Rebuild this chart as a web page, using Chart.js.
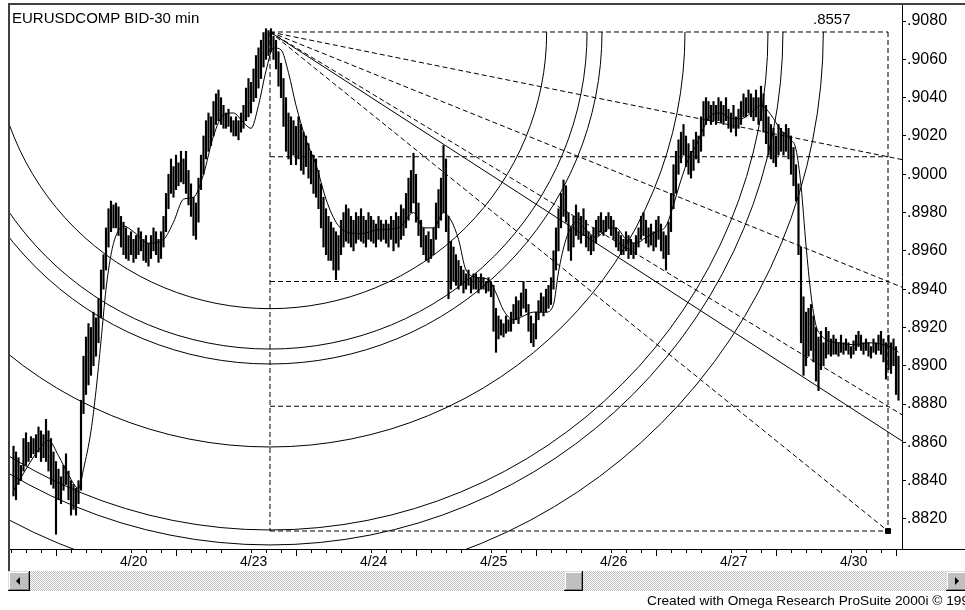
<!DOCTYPE html>
<html>
<head>
<meta charset="utf-8">
<script src="https://cdn.jsdelivr.net/npm/chart.js@4.4.0/dist/chart.umd.min.js"></script>
<style>
  body { margin: 0; background: #fff; width: 965px; height: 610px; overflow: hidden; position: relative;
         font-family: Arial, 'Liberation Sans', sans-serif; }
  canvas { position: absolute; left: 0; top: 0; }
  .txt { position: absolute; white-space: nowrap; color: #000; }
  .bevel { position: absolute; background: #c0c0c0;
           box-shadow: inset -1px -1px #000, inset 1px 1px #dfdfdf, inset -2px -2px #808080, inset 2px 2px #fff; }
  #track { position: absolute; left: 8px; top: 571px; width: 957px; height: 20px;
           background-color: #fff; background-image: repeating-conic-gradient(#c0c0c0 0 25%, #fff 0 50%);
           background-size: 2px 2px; }
  .tri { position: absolute; width: 0; height: 0; border-top: 4px solid transparent; border-bottom: 4px solid transparent; }
</style>
</head>
<body>
<canvas id="chart" width="965" height="610"></canvas>
<div class="txt" style="left:12px;top:10px;font-size:15px;line-height:15px">EURUSDCOMP BID-30 min</div>
<div class="txt" style="left:813px;top:11px;font-size:15px;line-height:15px">.8557</div>
<div id="track"></div>
<div class="bevel" style="left:8px;top:571px;width:22px;height:20px"><div class="tri" style="left:8px;top:6px;border-right:4px solid #000"></div></div>
<div class="bevel" style="left:564px;top:571px;width:19px;height:20px"></div>
<div class="bevel" style="left:946px;top:571px;width:22px;height:20px"><div class="tri" style="left:9px;top:6px;border-left:4px solid #000"></div></div>
<div class="txt" style="left:647px;top:594px;font-size:13.7px;line-height:14px">Created with Omega Research ProSuite 2000i © 1999</div>
<script>
// 30-min bars, prices in pips (0.0001). one array entry per bar, day by day
const highs = [
  // 4/19
  8858,8855,8852,8848,8862,8865,8860,8863,8862,8864,8868,8866,8864,8872,8866,8862,8855,8850,8846,8842,8848,8854,8845,8840,8838,8836,8840,8882,8905,8915,8922,8920,8928,8925,8935,8950,8958,8972,8982,8986,8984,
  // 4/20
  8985,8983,8978,8975,8972,8968,8970,8966,8968,8972,8970,8966,8968,8964,8968,8972,8970,8966,8970,8978,8990,9000,9008,9004,9010,9006,9012,9008,9012,9002,8995,8988,8985,8998,9010,9020,9028,9032,9030,9038,9042,9044,9040,9036,9032,9034,9030,9028,
  // 4/23
  9030,9028,9032,9036,9045,9050,9048,9055,9062,9066,9070,9074,9076,9075,9076,9072,9070,9064,9058,9050,9040,9032,9030,9028,9025,9030,9026,9022,9020,9016,9012,9010,9008,9002,8995,8988,8982,8978,8975,8972,8970,8968,8976,8980,8984,8982,8978,8976,
  // 4/24
  8980,8978,8982,8978,8976,8980,8978,8976,8974,8978,8976,8974,8976,8974,8978,8976,8980,8978,8984,8982,8990,8998,9002,9011,9000,8985,8976,8972,8968,8970,8966,8972,8985,8992,8998,9015,9008,8978,8965,8962,8958,8955,8952,8950,8948,8950,8946,8948,
  // 4/25
  8948,8946,8948,8946,8944,8946,8944,8942,8930,8926,8924,8922,8926,8924,8928,8932,8936,8934,8938,8944,8940,8932,8926,8922,8928,8934,8938,8936,8940,8942,8946,8960,8972,8982,8990,8997,8994,8980,8972,8978,8984,8980,8978,8982,8976,8970,8968,8972,
  // 4/26
  8976,8978,8980,8976,8978,8980,8978,8976,8972,8970,8968,8966,8970,8968,8966,8964,8968,8972,8978,8980,8976,8972,8974,8970,8976,8978,8974,8970,8968,8975,8990,9005,9012,9018,9022,9026,9020,9016,9012,9018,9022,9020,9030,9038,9040,9038,9036,9038,
  // 4/27
  9036,9040,9038,9036,9040,9034,9032,9036,9030,9034,9038,9042,9040,9044,9042,9040,9044,9040,9046,9042,9036,9030,9026,9024,9020,9026,9024,9022,9026,9024,9020,9014,9005,8995,8962,8936,8928,8930,8932,8926,8920,8915,8918,8912,8920,8918,8914,8916,
  // 4/30
  8914,8912,8916,8912,8914,8912,8910,8913,8916,8918,8916,8912,8914,8912,8910,8914,8912,8916,8918,8914,8912,8916,8912,8914,8910,8905
];
const lows = [
  // 4/19
  8832,8830,8838,8840,8845,8848,8850,8852,8854,8852,8855,8850,8852,8850,8845,8838,8836,8812,8830,8828,8835,8838,8830,8822,8825,8822,8828,8835,8875,8885,8890,8895,8900,8905,8912,8925,8940,8950,8962,8970,8972,
  // 4/20
  8972,8968,8962,8958,8956,8955,8958,8954,8956,8958,8960,8955,8954,8952,8956,8960,8958,8954,8956,8962,8970,8982,8990,8988,8992,8994,8996,8995,8990,8984,8978,8968,8966,8975,8992,9000,9008,9012,9015,9020,9026,9028,9026,9024,9024,9025,9022,9020,
  // 4/23
  9020,9018,9022,9024,9028,9030,9032,9038,9040,9045,9050,9056,9060,9062,9064,9060,9055,9046,9040,9025,9012,9008,9005,9010,9005,9008,9002,9000,9004,8998,8995,8990,8988,8982,8972,8962,8958,8955,8955,8950,8945,8950,8958,8962,8965,8964,8962,8960,
  // 4/24
  8964,8966,8965,8964,8962,8966,8965,8964,8962,8966,8965,8966,8964,8962,8966,8960,8964,8962,8966,8968,8972,8976,8980,8985,8975,8968,8962,8958,8955,8954,8956,8958,8966,8972,8976,8980,8970,8935,8940,8944,8942,8940,8942,8938,8940,8942,8938,8940,
  // 4/25
  8940,8938,8940,8940,8938,8939,8936,8918,8907,8914,8916,8915,8917,8918,8918,8922,8924,8922,8926,8930,8928,8918,8912,8910,8914,8924,8928,8926,8928,8930,8932,8940,8950,8960,8972,8978,8975,8960,8955,8962,8968,8966,8964,8968,8962,8960,8958,8960,
  // 4/26
  8964,8968,8970,8968,8970,8972,8968,8966,8962,8960,8958,8958,8960,8956,8958,8956,8958,8962,8966,8968,8964,8962,8963,8960,8962,8966,8960,8956,8950,8958,8970,8982,8990,9000,9006,9010,9004,9000,8998,9002,9008,9006,9012,9020,9026,9028,9026,9028,
  // 4/27
  9026,9028,9027,9026,9028,9024,9022,9024,9020,9024,9026,9030,9030,9032,9030,9028,9030,9026,9028,9022,9016,9010,9008,9006,9004,9010,9012,9010,9012,9008,9000,8994,8986,8958,8912,8895,8900,8905,8908,8902,8892,8887,8898,8900,8904,8906,8905,8906,
  // 4/30
  8906,8905,8907,8906,8908,8906,8904,8906,8908,8910,8908,8906,8908,8905,8904,8907,8906,8908,8906,8902,8893,8898,8896,8900,8885,8882
];

// moving average: bar index / pips
const maBars = [0,5,10,14,18,22,26,28,31,33,35,37,39,41,44,48,54,60,64,68,72,76,80,84,88,92,95,98,101,104,107,110,113,117,121,125,129,133,139,146,154,160,164,168,172,175,178,181,186,190,193,196,200,204,208,213,216,218,221,225,229,233,237,241,245,249,253,257,261,264,267,270,273,276,279,283,287,291,295,299,303,307,311,313,315,317,319,321,323,326,330,336,342,348,352,354];
const maPips = [8835,8846,8856,8861,8853,8843,8836,8846,8866,8887,8913,8940,8958,8968,8973,8970,8964,8966,8975,8987,8988,9000,9020,9031,9032,9027,9024,9036,9054,9066,9065,9053,9036,9018,9005,8987,8975,8970,8969,8971,8972,8980,8972,8972,8980,8976,8966,8950,8946,8945,8938,8929,8924,8926,8928,8928,8932,8949,8966,8975,8971,8967,8971,8972,8966,8964,8967,8970,8973,8984,8997,9008,9015,9024,9031,9032,9029,9029,9032,9036,9031,9023,9018,9013,8994,8963,8937,8921,8916,8913,8912,8911,8912,8911,8909,8907];

// axes
const dayStarts = [41, 89, 137, 185, 233, 281, 329];
const dayLabels = ['4/20', '4/23', '4/24', '4/25', '4/26', '4/27', '4/30'];
const yTicks = [0.8820, 0.8840, 0.8860, 0.8880, 0.8900, 0.8920, 0.8940, 0.8960, 0.8980, 0.9000, 0.9020, 0.9040, 0.9060, 0.9080];
const xMin = -1.8, xMax = 355.4;
const yMin = 0.88043, yMax = 0.90884;

// drawing tools: fib box / fan / arcs, anchored at the 4/23 high
const fibStart = { x: 102.6, y: 0.90743 };
const fibEnd = { x: 349.8, y: 0.88137 };
const levelRatios = [0.25, 0.5, 0.75];
const fanRatios = [0.25, 0.5, 0.75, 1];
const arcRatios = [1 / 3, 0.382, 0.4, 0.5, 0.6, 0.618, 2 / 3];
const arcSpanBars = 332;
const trendEnd = { x: 355.4, y: 0.88607 };

const FONT = "Arial, 'Liberation Sans', sans-serif";
const pip = v => v / 10000;
const lvl = r => fibStart.y + r * (fibEnd.y - fibStart.y);

function seg(points, dashed) {
    return {
        type: 'line', data: points, borderColor: '#000', borderWidth: 1,
        borderDash: dashed ? [5, 3] : [], pointRadius: 0, tension: 0, fill: false
    };
}

const toolSets = [];
// box
toolSets.push(seg([fibStart, { x: fibEnd.x, y: fibStart.y }], true));
toolSets.push(seg([{ x: fibEnd.x, y: fibStart.y }, fibEnd], true));
toolSets.push(seg([{ x: fibStart.x, y: fibEnd.y }, fibEnd], true));
toolSets.push(seg([fibStart, { x: fibStart.x, y: fibEnd.y }], true));
levelRatios.forEach(r => toolSets.push(seg([{ x: fibStart.x, y: lvl(r) }, { x: fibEnd.x, y: lvl(r) }], true)));
// fan lines, extended to the right edge
fanRatios.forEach(r => {
    if (r === 1) { toolSets.push(seg([fibStart, fibEnd], true)); return; }
    const k = (xMax - fibStart.x) / (fibEnd.x - fibStart.x);
    toolSets.push(seg([fibStart, { x: xMax, y: fibStart.y + (lvl(r) - fibStart.y) * k }], true));
});
toolSets.push(seg([fibStart, trendEnd], false));
toolSets.push({
    type: 'line', data: [fibEnd], showLine: false, pointStyle: 'rect', pointRadius: 3.5,
    backgroundColor: '#000', borderColor: '#000'
});

const arcPlugin = {
    id: 'fibArcs',
    afterDatasetsDraw(chart) {
        const { ctx, chartArea: a, scales: { x, y } } = chart;
        const cx = x.getPixelForValue(fibStart.x), cy = y.getPixelForValue(fibStart.y);
        const unit = x.getPixelForValue(fibStart.x + arcSpanBars) - cx;
        ctx.save();
        ctx.beginPath(); ctx.rect(a.left, a.top, a.right - a.left, a.bottom - a.top); ctx.clip();
        ctx.strokeStyle = '#000'; ctx.lineWidth = 1;
        arcRatios.forEach(r => { ctx.beginPath(); ctx.arc(cx, cy, r * unit, 0, Math.PI); ctx.stroke(); });
        ctx.restore();
    }
};

// minor ticks every 6 bars (3h) + window frame
const framePlugin = {
    id: 'frame',
    afterDraw(chart) {
        const { ctx, chartArea: a, scales: { x } } = chart;
        ctx.save();
        ctx.strokeStyle = '#000'; ctx.lineWidth = 1;
        ctx.beginPath();
        const minor = [];
        for (let v = dayStarts[0] - 6; v > xMin; v -= 6) minor.push(v);
        dayStarts.forEach((s, d) => {
            const next = d + 1 < dayStarts.length ? dayStarts[d + 1] : xMax;
            for (let v = s + 6; v < next - 1; v += 6) minor.push(v);
        });
        minor.forEach(v => {
            const px = Math.round(x.getPixelForValue(v)) + 0.5;
            ctx.moveTo(px, a.bottom); ctx.lineTo(px, a.bottom + 4);
        });
        ctx.stroke();
        ctx.strokeStyle = '#404040'; ctx.lineWidth = 2;
        ctx.beginPath();
        ctx.moveTo(8, 4); ctx.lineTo(965, 4);
        ctx.moveTo(9, 4); ctx.lineTo(9, 571);
        ctx.stroke();
        ctx.strokeStyle = '#000'; ctx.lineWidth = 1;
        ctx.beginPath(); ctx.moveTo(a.right, a.bottom + 0.5); ctx.lineTo(965, a.bottom + 0.5); ctx.stroke();
        ctx.restore();
    }
};

new Chart(document.getElementById('chart'), {
    type: 'bar',
    data: {
        datasets: [
            {
                type: 'bar', data: highs.map((h, i) => ({ x: i, y: [pip(lows[i]), pip(h)] })),
                backgroundColor: '#000', barThickness: 1.5, grouped: false
            },
            {
                type: 'line', data: maBars.map((b, i) => ({ x: b, y: pip(maPips[i]) })),
                borderColor: '#000', borderWidth: 1, pointRadius: 0, cubicInterpolationMode: 'monotone', fill: false
            }
        ].concat(toolSets)
    },
    options: {
        responsive: false, animation: false, devicePixelRatio: 1, events: [],
        layout: { padding: { left: 9, top: 5, right: 0, bottom: 41 } },
        plugins: { legend: { display: false }, tooltip: { enabled: false } },
        scales: {
            x: {
                type: 'linear', min: xMin, max: xMax, offset: false,
                afterBuildTicks: s => { s.ticks = dayStarts.map(v => ({ value: v })); },
                afterFit: s => { s.height = 20; s.paddingLeft = 0; s.paddingRight = 0; },
                grid: { drawOnChartArea: false, tickLength: 7, tickColor: '#000', color: '#000' },
                border: { color: '#000', width: 1 },
                ticks: {
                    color: '#000', font: { family: FONT, size: 14, lineHeight: 1 }, padding: -1,
                    align: 'start', labelOffset: 4, maxRotation: 0, autoSkip: false,
                    callback: v => dayLabels[dayStarts.indexOf(v)]
                }
            },
            y: {
                position: 'right', min: yMin, max: yMax,
                afterBuildTicks: s => { s.ticks = yTicks.map(v => ({ value: v })); },
                afterFit: s => { s.width = 63; s.paddingTop = 0; s.paddingBottom = 0; },
                grid: { drawOnChartArea: false, tickLength: 4, tickColor: '#000', color: '#000' },
                border: { color: '#000', width: 1 },
                ticks: {
                    color: '#000', font: { family: FONT, size: 16 }, padding: 1,
                    callback: v => v.toFixed(4).slice(1)
                }
            }
        }
    },
    plugins: [arcPlugin, framePlugin]
});
</script>
</body>
</html>
